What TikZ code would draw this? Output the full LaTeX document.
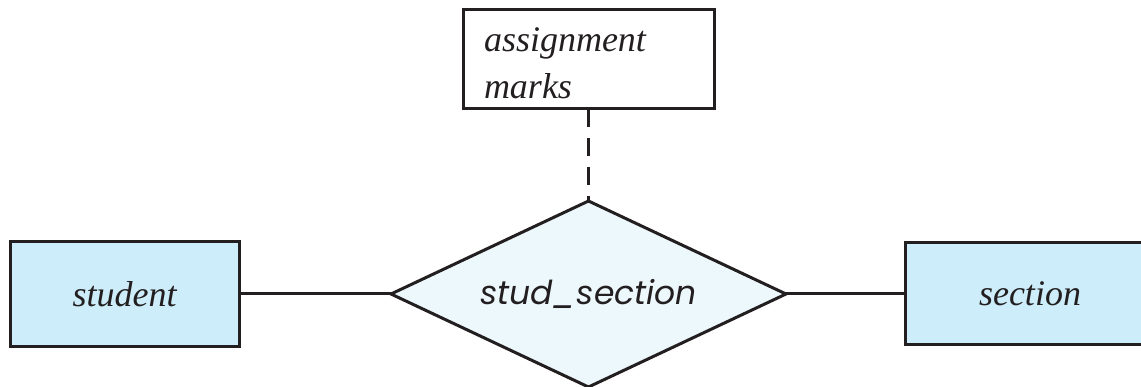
\documentclass[tikz,border=0pt]{standalone}
\usepackage{fontspec}
\newfontfamily\entfont{Liberation Serif}
\newfontfamily\relfont{Poppins}
\usetikzlibrary{shapes.geometric}
\definecolor{entfill}{HTML}{CCEDF9}
\definecolor{relfill}{HTML}{EDF8FD}
\definecolor{linecol}{HTML}{231F20}
\tikzset{
  entity/.style={draw=linecol, fill=entfill, line width=3pt, inner sep=0pt, outer sep=0pt,
    font=\entfont\fontsize{36}{40}\selectfont\itshape, text=linecol},
  attrbox/.style={draw=linecol, fill=white, line width=3pt, inner sep=0pt, outer sep=0pt,
    font=\entfont\fontsize{36}{47}\selectfont\itshape, text=linecol, align=left},
  relation/.style={diamond, aspect=2, draw=linecol, fill=relfill, line width=3pt, inner sep=0pt, outer sep=0pt,
    font=\relfont\fontsize{33}{40}\selectfont\itshape, text=linecol},
  conn/.style={draw=linecol, line width=3pt},
  dashconn/.style={draw=linecol, line width=3pt, dash pattern=on 18pt off 11pt}
}
\begin{document}
\begin{tikzpicture}[x=1pt,y=-1pt]
\useasboundingbox (0,0) rectangle (1141,387);
\node[entity, minimum width=229pt, minimum height=105pt] (student) at (124.5,294) {student};
\node[entity, minimum width=250pt, minimum height=102pt] (section) at (1030,294) {section};
\node[relation, minimum width=395pt, minimum height=186pt] (rel) at (588.5,294) {stud\_section};
\node[attrbox, minimum width=251pt, minimum height=99pt, text width=209pt, text height=32pt] (attr) at (588.5,59.5) {assignment\\marks};
\draw[conn] (student) -- (rel);
\draw[conn] (rel) -- (section);
\draw[dashconn] (attr) -- (rel);
\end{tikzpicture}
\end{document}
